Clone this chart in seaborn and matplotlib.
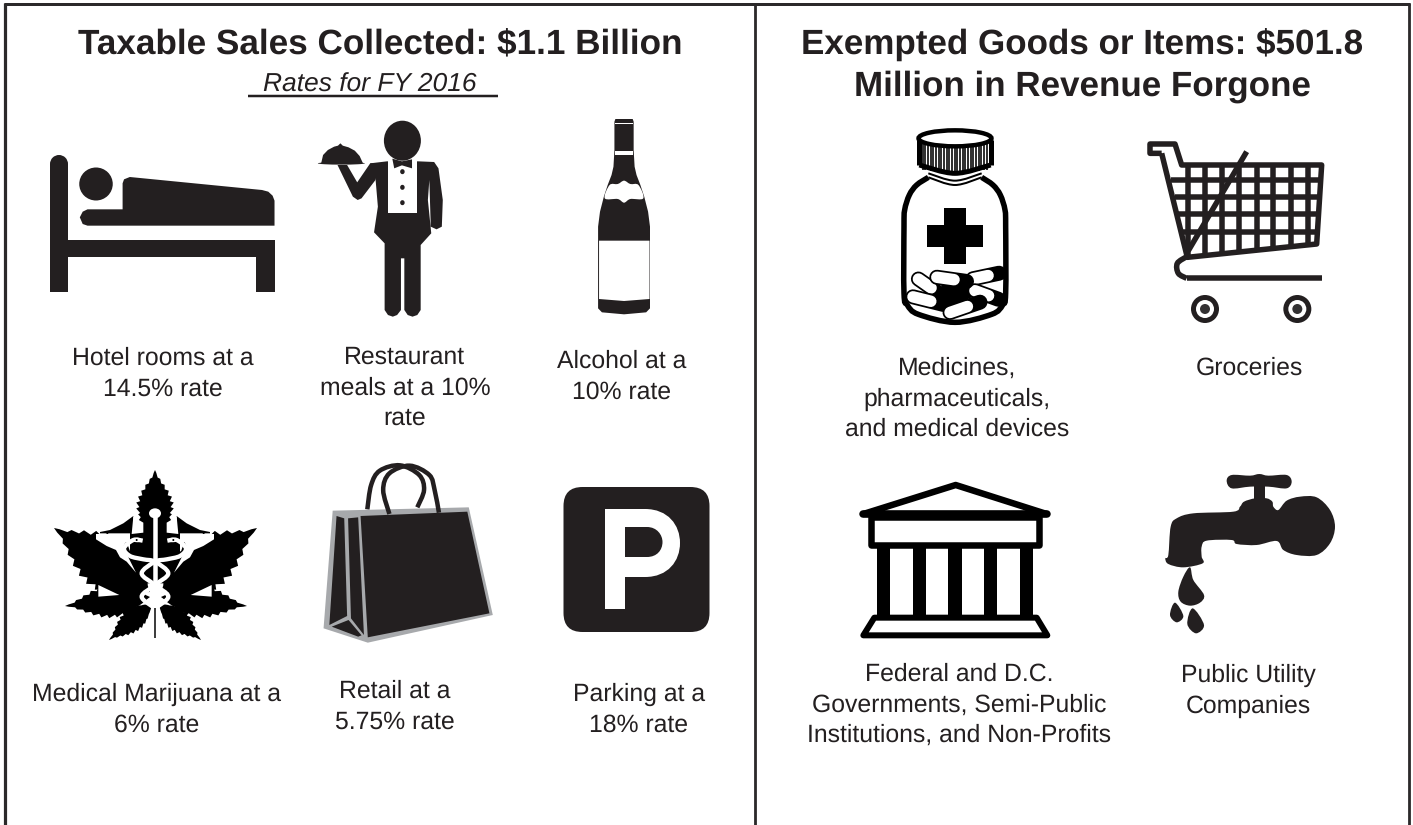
import numpy as np
import matplotlib
matplotlib.use('Agg')
import matplotlib.pyplot as plt
from matplotlib.patches import Ellipse, Circle, Polygon, PathPatch, FancyBboxPatch, Rectangle
from matplotlib.path import Path
import seaborn as sns

# -------- text --------
left_title = "Taxable Sales Collected: $1.1 Billion"
left_subtitle = "Rates for FY 2016"
right_title = "Exempted Goods or Items: $501.8\nMillion in Revenue Forgone"

left_labels = ["Hotel rooms at a\n14.5% rate", "Restaurant\nmeals at a 10%\nrate", "Alcohol at a\n10% rate",
               "Medical Marijuana at a\n6% rate", "Retail at a\n5.75% rate", "Parking at a\n18% rate"]
left_label_x = [163, 405, 622, 157, 395, 639]
left_label_y = [374, 388, 377, 710, 707, 710]

right_labels = ["Medicines,\npharmaceuticals,\nand medical devices", "Groceries",
                "Federal and D.C.\nGovernments, Semi-Public\nInstitutions, and Non-Profits",
                "Public Utility\nCompanies"]
right_label_x = [957, 1249, 959, 1248]
right_label_y = [399, 368, 705, 691]

INK = '#231f20'
EDGE = '#2b292a'

sns.set_theme(style='white')
plt.rcParams['font.family'] = ['Liberation Sans', 'DejaVu Sans']
plt.rcParams['text.hinting'] = 'none'

fig = plt.figure(figsize=(14.13, 8.25), dpi=100)
ax = fig.add_axes([0, 0, 1, 1])
ax.set_xlim(0, 1413)
ax.set_ylim(825, 0)
ax.axis('off')


def z1(p):
    return [(x / 2.08, 100 + y / 3) for x, y in p]

def z2(p):
    return [(x / 2.08, 450 + y / 3) for x, y in p]

def z3(p):
    return [(860 + x / 3, 120 + y / 3) for x, y in p]

def z4(p):
    return [(840 + x / 3, 460 + y / 3) for x, y in p]

def z5(p):
    return [(100 + x / 3, 500 + y / 3) for x, y in p]

def flip(p):
    # mirror over the caduceus staff
    return [(330 - x, y) for x, y in p]


def poly(p, fc=INK, z=2, **kw):
    ax.add_patch(Polygon(p, closed=True, fc=fc, ec='none', zorder=z, **kw))

def outline(p, lw, closed=True, color=INK, z=2):
    ax.add_patch(Polygon(p, closed=closed, fc='none', ec=color, lw=lw * 0.72, zorder=z, joinstyle='round'))

def smooth(p, fc=INK, ec='none', lw=0, closed=True, z=2):
    # catmull-rom through the points
    p = np.array(p, dtype=float)
    n = len(p)
    verts = [p[0]]
    codes = [Path.MOVETO]
    last = n if closed else n - 1
    for i in range(last):
        if closed:
            p0, p1, p2, p3 = p[(i - 1) % n], p[i], p[(i + 1) % n], p[(i + 2) % n]
        else:
            p0, p1, p2, p3 = p[max(i - 1, 0)], p[i], p[i + 1], p[min(i + 2, n - 1)]
        verts += [p1 + (p2 - p0) / 6, p2 - (p3 - p1) / 6, p2]
        codes += [Path.CURVE4] * 3
    patch = PathPatch(Path(verts, codes), fc=fc if closed else 'none', ec=ec, lw=lw * 0.72, zorder=z)
    ax.add_patch(patch)
    return patch

def line(p, lw, color=INK, cap='butt', z=2):
    xs, ys = zip(*p)
    ax.plot(xs, ys, color=color, lw=lw * 0.72, solid_capstyle=cap, solid_joinstyle='round', zorder=z)


# -------- frame --------
for x, w in [(5, 3.2), (754.5, 2.8), (1408.5, 2.8)]:
    line([(x, 3), (x, 825)], w, color=EDGE)
line([(3.5, 3.5), (1410, 3.5)], 3, color=EDGE)

# -------- bed --------
ax.add_patch(Rectangle((50, 164), 18, 128, fc=INK, ec='none'))
ax.add_patch(Ellipse((59, 164), 18, 18, fc=INK, ec='none'))
poly([(68, 239.5), (274.5, 239.5), (274.5, 292), (256, 292), (256, 256.5), (68, 256.5)])
ax.add_patch(Ellipse((96, 184), 33.5, 33, fc=INK, ec='none'))
poly(z1([(255, 328), (255, 250), (258, 238), (270, 231), (545, 270), (558, 275), (567, 287), (571, 302), (571, 377),
         (182, 377), (172, 372), (166, 352), (172, 335), (182, 328)]))

# -------- waiter --------
ax.add_patch(Ellipse((402.4, 140.7), 37, 40, fc=INK, ec='none'))
poly(z1([(770, 190), (805, 184), (870, 184), (903, 186), (912, 205), (921, 300), (919, 380), (908, 388),
         (896, 380), (893, 240), (890, 300), (897, 400), (875, 435), (875, 630), (868, 645), (858, 650),
         (848, 645), (841, 630), (841, 475), (834, 475), (834, 630), (826, 645), (817, 650), (807, 645),
         (800, 630), (800, 430), (778, 397), (786, 320), (781, 235)]))
poly(z1([(702, 195), (734, 290), (744, 300), (752, 295), (781, 240), (790, 190), (770, 190), (743, 247), (722, 195)]))
ax.add_patch(Ellipse(z1([(710, 190)])[0], 47, 2.6, fc=INK, ec='none'))
poly(z1([(668, 190), (672, 165), (682, 150), (695, 140), (703, 137), (708, 130), (713, 137), (725, 142), (738, 152),
         (748, 168), (755, 190)]))
poly(z1([(808, 184), (868, 184), (868, 338), (808, 338)]), fc='white', z=3)
poly(z1([(816, 176), (836, 184), (857, 178), (857, 205), (836, 196), (820, 205)]), z=4)
for y in [215, 262, 308]:
    ax.add_patch(Ellipse(z1([(837, y)])[0], 4.5, 5, fc=INK, ec='none', zorder=4))

# -------- wine bottle --------
half = [(1280, 57), (1278, 65), (1278, 150), (1276, 200), (1272, 225), (1264, 255), (1256, 290), (1248, 335), (1244, 380),
        (1244, 625), (1252, 637), (1298, 643)]
poly(z1(half + [(2 * 1298 - x, y) for x, y in half[-2::-1]]))
poly(z1([(1246, 422), (1351, 422), (1351, 597), (1298, 603), (1246, 597)]), fc='white', z=3)
smooth(z1([(1268, 255), (1285, 252), (1298, 242), (1311, 252), (1328, 255), (1338, 295), (1311, 297), (1298, 308),
           (1285, 297), (1258, 295)]), fc='white', z=3)
poly(z1([(1279, 153), (1317, 153), (1317, 165), (1279, 165)]), fc='white', z=3)
poly(z1([(1279, 68), (1317, 68), (1317, 73), (1279, 73)]), fc='white', z=3)


# -------- marijuana leaf --------
def leaflet(tip, base, width, teeth=11):
    tip, base = np.array(tip, float), np.array(base, float)
    d = base - tip
    n = np.array([-d[1], d[0]]) / np.hypot(*d)
    side_a, side_b = [], []
    for i in range(1, teeth * 2):
        t = i / (teeth * 2)
        w = width * np.sin(np.pi * t ** 1.15) ** 1.1
        if i % 2 == 0:
            w *= 0.82
            t += 0.025
        pt = tip + d * t
        side_a.append(pt + n * w)
        side_b.append(pt - n * w)
    poly([tuple(tip)] + [tuple(q) for q in side_a] + [tuple(base)] + [tuple(q) for q in side_b[::-1]], fc='black')


leaf_parts = [((155, 470), (155, 535), 19), ((54, 528), (150, 592), 29), ((257, 528), (161, 592), 29),
              ((65, 606), (150, 597), 17), ((247, 606), (161, 597), 17),
              ((109, 640), (152, 604), 12), ((201, 640), (159, 604), 12)]
for tip, base, w in leaf_parts:
    leaflet(tip, base, w)

# the centre is laid over the leaflets, crop coordinates mirror over x=165
poly(z5([(130, 40), (200, 40), (240, 100), (240, 250), (90, 250), (90, 100)]), fc='black', z=3)
for side in [lambda q: q, flip]:
    # wing, feather, gap above the leaflet, notch under it
    poly(z5(side([(0, 96), (30, 90), (70, 70), (100, 48), (100, 100), (0, 100)])), fc='black', z=3)
    poly(z5(side([(100, 50), (130, 68), (130, 98), (95, 102)])), fc='white', z=4)
    poly(z5(side([(-12, 102), (88, 102), (70, 140), (85, 172), (108, 218), (80, 185), (60, 172), (48, 150), (20, 138), (-12, 118)])), fc='white', z=3)
    poly(z5(side([(-5, 255), (58, 285), (-5, 290)])), fc='white', z=3)
    # snake head and the loop round the staff
    smooth(z5(side([(128, 122), (100, 120), (72, 145), (90, 168), (130, 178), (165, 185), (205, 220), (165, 255),
                    (125, 290), (165, 325)])), ec='white', lw=4.3, closed=False, z=4)
    ax.add_patch(Ellipse(z5(side([(112, 120)]))[0], 9, 4.5, fc='white', ec='none', zorder=4))
    ax.add_patch(Ellipse(z5(side([(110, 120)]))[0], 2, 2, fc='black', ec='none', zorder=5))
line(z5([(165, 40), (165, 325)]), 4.5, color='white', z=4)
ax.add_patch(Ellipse(z5([(165, 40)])[0], 12, 10, fc='white', ec='none', zorder=4))
line([(155, 608), (155, 638)], 1.5, color='black', z=5)

# -------- shopping bag --------
poly(z2([(692, 182), (975, 172), (1025, 495), (765, 578), (673, 535)]), fc='#a7a9ac')
poly(z2([(750, 198), (972, 185), (1018, 490), (765, 562)]), fc=INK, z=3)
poly(z2([(700, 198), (716, 205), (722, 498), (685, 525)]), fc=INK, z=3)
poly(z2([(724, 205), (745, 202), (757, 555), (730, 505)]), fc=INK, z=3)
poly(z2([(690, 530), (725, 510), (752, 556), (745, 560)]), fc=INK, z=3)
smooth(z2([(764, 178), (772, 105), (790, 62), (832, 46), (872, 75), (882, 120), (868, 172)]),
       ec=INK, lw=4.5, closed=False, z=2)
smooth(z2([(810, 192), (797, 120), (810, 70), (852, 47), (893, 75), (904, 120), (913, 188)]),
       ec=INK, lw=4.5, closed=False, z=4)

# -------- parking --------
ax.add_patch(FancyBboxPatch((563.5, 487), 146, 145, boxstyle='round,pad=0,rounding_size=19', fc=INK, ec='none'))
p_outer = Path([(605, 509), (645, 509), (668, 509), (680, 525), (680, 543), (680, 561), (668, 577), (645, 577),
                (625, 577), (625, 609), (605, 609), (605, 509)],
               [1, 2, 4, 4, 4, 4, 4, 4, 2, 2, 2, 79])
ax.add_patch(PathPatch(p_outer, fc='white', ec='none', zorder=3))
p_inner = Path([(625, 527), (647, 527), (657, 527), (662.5, 535), (662.5, 542), (662.5, 550), (657, 557), (647, 557),
                (625, 557), (625, 527)],
               [1, 2, 4, 4, 4, 4, 4, 4, 2, 79])
ax.add_patch(PathPatch(p_inner, fc=INK, ec='none', zorder=4))

# -------- pill bottle --------
smooth(z3([(205, 172), (170, 195), (148, 225), (134, 270), (132, 320), (132, 520), (142, 555), (175, 583), (285, 607),
           (395, 583), (428, 555), (437, 520), (437, 320), (435, 270), (421, 225), (399, 195), (365, 172)]),
       ec='black', lw=5.5, closed=False)
smooth(z3([(205, 172), (285, 195), (365, 172)]), ec='black', lw=2, closed=False)
smooth(z3([(205, 160), (285, 182), (365, 160)]), ec='black', lw=2, closed=False)
smooth(z3([(178, 135), (285, 160), (392, 135)]), ec='black', lw=5, closed=False)
line(z3([(178, 60), (178, 135)]), 5, color='black')
line(z3([(392, 60), (392, 135)]), 5, color='black')
for x in np.arange(188, 386, 8):
    line(z3([(x, 70), (x, 155 - 0.0006 * (x - 285) ** 2)]), 1.6, color='black')
ax.add_patch(Ellipse(z3([(285, 55)])[0], 73, 16, fc='white', ec='black', lw=3.2, zorder=3))
poly(z3([(253, 263), (317, 263), (317, 316), (370, 316), (370, 380), (317, 380), (317, 432), (253, 432), (253, 380), (200, 380), (200, 316), (253, 316)]), fc='black')
poly(z3([(240, 480), (335, 480), (340, 530), (260, 565)]), fc='black', z=2)
pills = [(378, 468, -12, 80), (380, 525, 20, 75), (208, 500, 35, 80), (205, 542, 14, 95), (275, 478, 8, 90), (315, 562, -19, 95)]
for cx, cy, ang, size in pills:
    c, s = np.cos(np.radians(ang)), np.sin(np.radians(ang))
    a = (cx - c * size / 2, cy - s * size / 2)
    b = (cx + c * size / 2, cy + s * size / 2)
    m = (cx + c * size * 0.08, cy + s * size * 0.08)
    line(z3([a, b]), 15, color='black', cap='round', z=3)
    line(z3([a, m]), 11.5, color='white', cap='round', z=3)

# -------- cart --------
line(z3([(905, 100), (870, 100), (870, 72), (945, 72), (965, 135), (1385, 135), (1370, 372), (982, 412), (905, 100)]), 5.5)
col_x = [985, 1035, 1087, 1138, 1190, 1240, 1292, 1345]
for x in col_x:
    line(z3([(x, 135), (x, 405 - (x - 985) * 0.1)]), 5.5)
for y in [180, 232, 283, 335]:
    line(z3([(925 + (y - 135) * 0.2, y), (1378, y)]), 5.5)
line(z3([(985, 392), (1160, 95)]), 5.5)
smooth(z3([(980, 410), (952, 430), (955, 460), (980, 475)]), ec=INK, lw=5.5, closed=False)
line(z3([(980, 475), (1385, 475)]), 5.5)
for x in [1035, 1312]:
    for r, col in [(42, INK), (27, 'white'), (15, '#333132')]:
        ax.add_patch(Circle(z3([(x, 567)])[0], r / 3, fc=col, ec='none'))

# -------- building --------
k = 'black'
outline(z4([(70, 162), (347, 75), (620, 162)]), 6.5, color=k)
line(z4([(70, 162), (620, 162)]), 7.5, color=k, cap='round')
outline(z4([(93, 170), (597, 170), (597, 254), (93, 254)]), 6.5, color=k)
for x0 in [110, 218, 325, 432, 540]:
    ax.add_patch(Rectangle(z4([(x0, 255)])[0], 40 / 3, 215 / 3, fc=k, ec='none'))
outline(z4([(103, 473), (590, 473), (622, 526), (70, 526)]), 6, color=k)

# -------- tap --------
smooth(z4([(1160, 62), (1175, 45), (1230, 47), (1258, 42), (1285, 47), (1340, 45), (1355, 65), (1340, 85), (1285, 80), (1230, 80), (1175, 85)]))
poly(z4([(1243, 75), (1275, 75), (1275, 125), (1243, 125)]))
smooth(z4([(985, 285), (992, 200), (1010, 175), (1060, 160), (1180, 155), (1200, 140), (1212, 125), (1245, 115), (1280, 115), (1297, 125),
           (1300, 140), (1315, 150), (1340, 122), (1380, 110), (1430, 112), (1470, 150), (1485, 200), (1470, 250), (1430, 285), (1370, 285),
           (1330, 270), (1310, 243), (1250, 255), (1190, 252), (1175, 240), (1100, 242), (1085, 260), (1085, 290), (1088, 310), (1030, 322),
           (985, 312), (976, 295)]))
smooth(z4([(1050, 322), (1060, 360), (1092, 405), (1080, 428), (1050, 437), (1022, 425), (1015, 395), (1030, 350)]))
smooth(z4([(1005, 428), (1030, 468), (1010, 487), (990, 465)]))
smooth(z4([(1058, 445), (1092, 495), (1068, 520), (1042, 492)]))

# -------- text --------
ax.text(380, 45, left_title, ha='center', va='center', fontsize=25.3, fontweight='bold', color=INK)
ax.text(370, 85, left_subtitle, ha='center', va='center', fontsize=19, style='italic', color=INK)
line([(248, 95.5), (498, 95.5)], 2.5)
ax.text(1082, 65.5, right_title, ha='center', va='center', fontsize=25.2, fontweight='bold', color=INK, linespacing=1.33)

for lab, x, y in zip(left_labels, left_label_x, left_label_y):
    ax.text(x, y, lab, ha='center', va='center', fontsize=17.8, color=INK, linespacing=1.4)
for lab, x, y in zip(right_labels, right_label_x, right_label_y):
    ax.text(x, y, lab, ha='center', va='center', fontsize=17.8, color=INK, linespacing=1.4)

fig.savefig('out.png', dpi=100)
